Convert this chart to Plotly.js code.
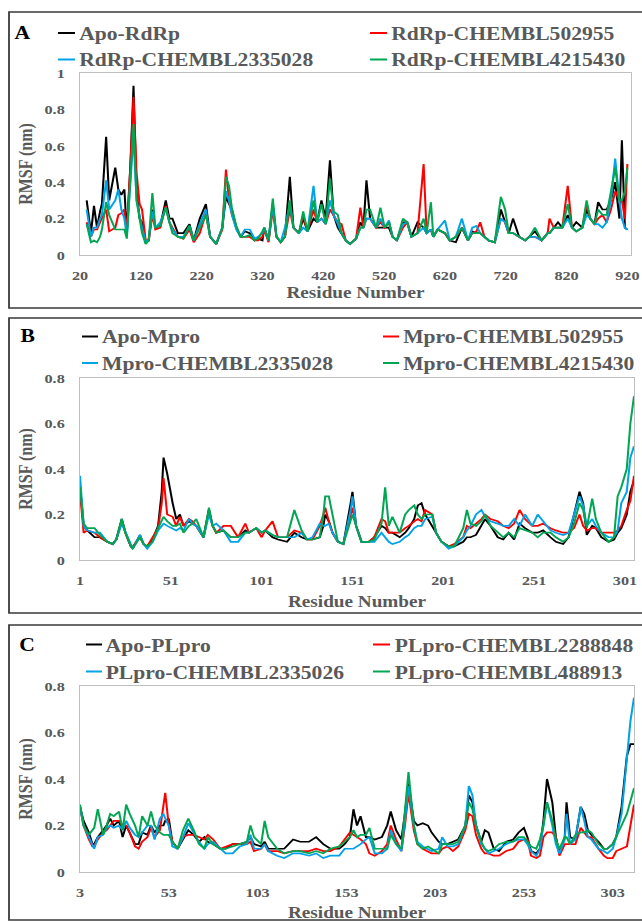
<!DOCTYPE html>
<html>
<head>
<meta charset="utf-8">
<script src="https://cdn.plot.ly/plotly-3.0.1.min.js"></script>
<style>
html,body{margin:0;padding:0;background:#fff;width:642px;height:922px;overflow:hidden;}
#wrap{width:535px;height:922px;transform:scaleX(1.2);transform-origin:0 0;}
#chart{width:535px;height:922px;}
</style>
</head>
<body>
<div id="wrap"><div id="chart"></div></div>
<script>
// ---------------- DATA ----------------
// Panel A : RdRp
const namesA = ['Apo-RdRp','RdRp-CHEMBL502955','RdRp-CHEMBL2335028','RdRp-CHEMBL4215430'];
const ticksA = [20,120,220,320,420,520,620,720,820,920];
const resA = [31,38,43,48,53,56,63,68,78,83, 88,93,97,103,108,113,118,122,128,133,
  139,144,152,161,167,172,181,190,200,207, 217,227,234,244,254,260,265,270,277,284,
  291,299,307,313,320,323,330,337,343,350,357, 365,371,380,387,394,404,410,417,424,431,
  437,444,450,457,464,474,481,486,491,497, 507,514,521,528,534,541,551,558,565,575,
  585,590,597,601,608,620,628,638,648,658, 665,672,678,685,692,702,712,719,725,732,
  742,752,759,768,779,789,792,799,806,813, 822,829,836,846,853,859,866,872,879,886,
  893,900,907,911,916,920];
const apoA = [.30,.12,.27,.15,.24,.28,.65,.30,.48,.36, .33,.36,.12,.50,.93,.35,.20,.18,.07,.08,
  .25,.15,.16,.30,.20,.20,.12,.12,.17,.08, .20,.28,.10,.06,.15,.32,.28,.25,.15,.10,
  .13,.12,.08,.09,.08,.15,.08,.28,.10,.07,.10, .43,.15,.12,.20,.13,.20,.18,.30,.20,.52,
  .22,.15,.12,.08,.06,.09,.18,.15,.41,.20, .15,.15,.15,.15,.10,.08,.18,.18,.10,.18,
  .15,.12,.14,.10,.14,.12,.08,.07,.15,.08, .13,.12,.12,.10,.08,.07,.25,.18,.12,.20,
  .10,.08,.10,.13,.08,.12,.12,.15,.18,.15, .22,.15,.18,.15,.25,.20,.17,.29,.25,.25,
  .30,.40,.20,.63,.15,.14];
const lig1A = [.18,.10,.14,.14,.18,.20,.25,.13,.15,.22, .23,.25,.12,.50,.87,.45,.28,.25,.08,.08,
  .22,.14,.15,.27,.18,.15,.10,.09,.14,.07, .12,.23,.10,.06,.14,.47,.30,.22,.15,.10,
  .10,.10,.08,.08,.10,.14,.07,.25,.10,.07,.10, .25,.15,.12,.22,.13,.25,.18,.20,.17,.25,
  .22,.18,.17,.08,.06,.09,.26,.15,.20,.20, .15,.18,.15,.18,.10,.08,.15,.18,.10,.12,
  .50,.12,.14,.10,.14,.12,.08,.10,.15,.08, .12,.13,.18,.10,.08,.07,.20,.18,.12,.12,
  .10,.08,.10,.10,.08,.12,.20,.15,.15,.15, .38,.15,.13,.15,.28,.20,.17,.20,.22,.18,
  .25,.35,.30,.30,.20,.50];
const lig2A = [.25,.10,.15,.15,.20,.22,.41,.25,.30,.36, .25,.20,.10,.40,.66,.30,.20,.15,.07,.09,
  .24,.15,.18,.26,.18,.14,.10,.10,.16,.08, .17,.25,.10,.06,.15,.35,.30,.22,.14,.10,
  .14,.14,.09,.10,.12,.15,.08,.27,.10,.07,.15, .28,.15,.12,.15,.13,.38,.18,.20,.17,.30,
  .22,.17,.12,.08,.06,.09,.15,.15,.20,.20, .15,.20,.15,.19,.10,.08,.17,.18,.10,.12,
  .15,.12,.14,.10,.14,.19,.08,.10,.20,.08, .15,.16,.12,.10,.08,.07,.20,.18,.12,.12,
  .10,.08,.10,.10,.08,.12,.12,.15,.15,.15, .20,.15,.13,.15,.22,.20,.17,.17,.15,.18,
  .30,.53,.30,.20,.15,.14];
const lig3A = [.17,.07,.08,.07,.10,.14,.29,.22,.14,.14, .14,.14,.09,.40,.72,.30,.18,.12,.06,.08,
  .34,.15,.16,.26,.18,.12,.10,.09,.16,.08, .15,.22,.10,.06,.15,.43,.38,.25,.16,.10,
  .10,.11,.08,.09,.13,.15,.08,.31,.10,.07,.10, .30,.15,.12,.24,.13,.30,.18,.28,.17,.42,
  .24,.22,.12,.08,.06,.09,.15,.15,.25,.25, .15,.26,.15,.18,.10,.08,.20,.18,.10,.12,
  .20,.12,.29,.10,.14,.12,.08,.10,.15,.08, .12,.12,.12,.10,.08,.07,.32,.25,.12,.12,
  .10,.08,.10,.15,.08,.12,.12,.15,.15,.15, .28,.15,.13,.15,.30,.20,.17,.25,.22,.22,
  .35,.48,.30,.30,.35,.48];

// Panel B : Mpro
const namesB = ['Apo-Mpro','Mpro-CHEMBL502955','Mpro-CHEMBL2335028','Mpro-CHEMBL4215430'];
const ticksB = [1,51,101,151,201,251,301];
const resB = [1,3,5,9,12,16,19,21,24,26, 29,30,34,36,38,41,44,46,47,49,
  52,54,56,58,61,63,65,69,72,74, 76,80,84,88,92,94,98,101,103,107,
  110,115,119,123,126,129,133,135,136,138, 140,143,146,150,151,153,156,160,163,167,
  169,171,173,177,180,182,185,187,189,191, 195,197,200,204,207,212,214,216,219,222,
  224,227,231,234,237,240,243,246,250,253, 256,260,263,267,270,273,276,278,280,283,
  285,288,292,295,297,299,302,304,306];
const apoB = [.33,.15,.13,.10,.10,.08,.07,.09,.18,.12, .06,.05,.11,.07,.06,.09,.15,.30,.45,.38,
  .25,.18,.20,.15,.17,.16,.15,.10,.22,.15, .12,.13,.10,.10,.13,.12,.14,.12,.13,.10,
  .09,.08,.12,.10,.09,.09,.10,.15,.20,.17, .12,.08,.07,.25,.30,.15,.08,.08,.10,.15,
  .14,.12,.12,.10,.12,.14,.18,.24,.25,.20, .15,.12,.08,.06,.06,.08,.10,.10,.11,.15,
  .18,.15,.10,.09,.12,.09,.16,.14,.12,.12, .13,.10,.08,.07,.10,.20,.30,.25,.11,.15,
  .14,.10,.08,.09,.12,.14,.20,.30,.35];
const lig1B = [.30,.12,.13,.12,.10,.08,.07,.09,.17,.12, .06,.06,.10,.07,.06,.10,.14,.25,.36,.20,
  .19,.15,.19,.15,.18,.17,.15,.10,.22,.15, .12,.15,.15,.10,.16,.12,.14,.10,.13,.17,
  .10,.10,.13,.12,.09,.09,.15,.20,.23,.17, .12,.08,.07,.20,.23,.15,.08,.08,.10,.18,
  .17,.12,.12,.12,.14,.15,.17,.18,.17,.22, .20,.12,.08,.06,.07,.10,.15,.14,.16,.18,
  .20,.18,.17,.15,.14,.16,.22,.18,.15,.15, .16,.14,.13,.12,.12,.14,.20,.15,.13,.14,
  .14,.12,.12,.12,.13,.15,.22,.26,.37];
const lig2B = [.37,.15,.13,.12,.12,.08,.07,.09,.16,.12, .06,.05,.11,.07,.05,.08,.13,.15,.16,.15,
  .14,.13,.14,.13,.18,.16,.15,.10,.20,.15, .16,.13,.08,.08,.12,.12,.14,.12,.13,.11,
  .10,.10,.10,.12,.09,.10,.16,.15,.15,.16, .12,.08,.07,.22,.28,.15,.08,.08,.08,.12,
  .10,.08,.07,.08,.10,.11,.14,.15,.15,.18, .19,.12,.08,.05,.06,.10,.13,.15,.20,.22,
  .19,.17,.16,.15,.15,.18,.15,.20,.15,.20, .17,.13,.12,.11,.12,.20,.28,.24,.15,.18,
  .15,.12,.10,.10,.13,.25,.30,.45,.50];
const lig3B = [.32,.16,.14,.14,.11,.08,.07,.09,.18,.12, .06,.05,.10,.07,.06,.08,.14,.18,.19,.17,
  .15,.15,.16,.12,.15,.16,.18,.10,.23,.15, .12,.13,.10,.10,.12,.12,.14,.12,.13,.11,
  .10,.10,.22,.13,.09,.09,.10,.20,.28,.28, .20,.08,.07,.18,.20,.15,.08,.08,.09,.16,
  .32,.15,.19,.12,.20,.22,.24,.20,.18,.20, .20,.12,.08,.06,.06,.14,.22,.16,.15,.17,
  .20,.15,.12,.10,.12,.10,.14,.13,.12,.10, .12,.12,.10,.08,.10,.16,.25,.22,.14,.27,
  .18,.12,.08,.10,.28,.32,.40,.60,.72];

// Panel C : PLpro
const namesC = ['Apo-PLpro','PLpro-CHEMBL2288848','PLpro-CHEMBL2335026','PLpro-CHEMBL488913'];
const ticksC = [3,53,103,153,203,253,303];
const resC = [3,5,8,10,11,13,16,18,20,22, 25,27,29,31,34,36,38,41,43,45,
  48,50,51,53,55,58,61,64,67,70, 73,75,78,82,85,89,93,97,99,101,
  105,107,109,114,118,123,127,132,136,140, 144,149,152,155,157,159,161,164,166,169,
  173,176,178,181,184,186,188,191,193,196, 199,201,205,207,210,213,216,220,222,224,
  226,229,231,233,236,239,243,247,250,253, 255,257,260,262,264,266,269,271,273,276,
  277,279,282,285,287,289,291,295,298,300, 303,305,308,311,313,315];
const apoC = [.28,.22,.17,.12,.12,.15,.18,.20,.23,.20, .22,.15,.20,.17,.12,.12,.17,.16,.20,.17,
  .20,.20,.22,.23,.13,.10,.14,.18,.16,.13, .15,.13,.12,.10,.10,.12,.12,.13,.15,.12,
  .11,.13,.10,.10,.10,.14,.13,.13,.15,.12, .10,.10,.12,.15,.27,.20,.24,.15,.15,.14,
  .15,.20,.26,.18,.14,.25,.38,.22,.20,.21, .20,.17,.13,.12,.12,.13,.14,.20,.33,.30,
  .20,.13,.18,.17,.10,.09,.13,.14,.17,.19, .15,.09,.08,.10,.22,.40,.30,.15,.08,.15,
  .30,.15,.14,.28,.25,.18,.16,.13,.10,.10, .12,.15,.28,.50,.55,.55];
const lig1C = [.28,.20,.14,.11,.11,.14,.17,.18,.20,.22, .22,.20,.20,.17,.11,.10,.13,.15,.19,.15,
  .18,.30,.34,.20,.13,.10,.15,.16,.16,.15, .14,.16,.14,.10,.11,.12,.12,.12,.13,.09,
  .10,.12,.09,.09,.08,.09,.09,.09,.10,.09, .09,.11,.14,.17,.16,.15,.14,.12,.08,.07,
  .09,.12,.20,.14,.09,.20,.34,.18,.12,.10, .09,.08,.08,.10,.11,.09,.11,.18,.25,.24,
  .16,.10,.08,.08,.07,.07,.09,.10,.13,.14, .14,.07,.06,.07,.15,.17,.17,.15,.07,.12,
  .12,.12,.12,.19,.17,.15,.15,.10,.07,.06, .06,.09,.10,.11,.20,.29];
const lig2C = [.28,.20,.15,.11,.10,.15,.16,.19,.20,.19, .20,.18,.22,.19,.16,.15,.17,.20,.20,.14,
  .23,.25,.23,.20,.11,.10,.15,.21,.17,.13, .10,.12,.13,.10,.08,.08,.11,.12,.16,.10,
  .10,.12,.09,.07,.06,.08,.08,.07,.08,.06, .07,.07,.10,.10,.10,.11,.12,.14,.15,.08,
  .08,.10,.18,.12,.09,.22,.37,.20,.13,.11, .10,.09,.10,.15,.11,.11,.12,.20,.37,.33,
  .20,.12,.10,.08,.09,.10,.12,.13,.14,.14, .12,.09,.07,.10,.19,.30,.20,.12,.08,.14,
  .25,.12,.14,.28,.22,.15,.14,.10,.09,.08, .10,.15,.25,.50,.65,.75];
const lig3C = [.29,.20,.16,.18,.19,.27,.16,.20,.25,.24, .26,.18,.29,.25,.20,.15,.24,.20,.26,.20,
  .17,.16,.16,.16,.13,.10,.18,.23,.18,.12, .10,.15,.12,.10,.10,.11,.12,.13,.20,.15,
  .12,.22,.15,.10,.08,.09,.09,.08,.09,.08, .10,.11,.13,.15,.18,.15,.16,.16,.19,.10,
  .10,.10,.16,.12,.10,.25,.43,.20,.12,.10, .11,.10,.08,.12,.12,.12,.13,.20,.30,.27,
  .20,.13,.10,.09,.10,.12,.13,.13,.15,.15, .13,.11,.10,.14,.20,.30,.22,.14,.10,.15,
  .15,.12,.16,.17,.17,.18,.17,.12,.10,.10, .12,.15,.20,.25,.30,.36];

const colors = ['#000000','#ff0000','#00a2e8','#00a651'];

// ---------------- LAYOUT ----------------
const REFW = 642, REFH = 922;           // reference pixel frame
const fx = x => x / REFW;               // paper x from reference px
const fy = y => 1 - y / REFH;           // paper y from reference px
const FONT = '"Liberation Serif","Times New Roman",Times,serif';
const GRAY = '#595959';

const panels = [
  {res:resA, series:[apoA,lig1A,lig2A,lig3A], names:namesA, ticks:ticksA, xr:[20,926], yr:[0,1],
   plot:[80,631,73,255], box:[9,660,12,308], letter:'A', letterPos:[22.5,33], tstand:4,
   leg:{rows:[33,59.5], c1:[58,75,77], c2:[370,387,389]}},
  {res:resB, series:[apoB,lig1B,lig2B,lig3B], names:namesB, ticks:ticksB, xr:[1,306], yr:[0,0.8],
   plot:[80,634,378,560], box:[9,660,318,613], letter:'B', letterPos:[27.5,336.5], tstand:8,
   leg:{rows:[336.5,363], c1:[82,98,100], c2:[383,399,401]}},
  {res:resC, series:[apoC,lig1C,lig2C,lig3C], names:namesC, ticks:ticksC, xr:[3,315], yr:[0,0.8],
   plot:[80,634,686,872], box:[9,660,625,920], letter:'C', letterPos:[27,644.5], tstand:7,
   leg:{rows:[644.5,671.5], c1:[86,102,103], c2:[373,390,392]}}
];

const traces = [];
const layout = {
  width:535, height:922, margin:{l:0,r:0,t:0,b:0}, showlegend:false,
  paper_bgcolor:'#ffffff', plot_bgcolor:'#ffffff',
  font:{family:FONT, color:GRAY},
  shapes:[], annotations:[]
};

panels.forEach((p,k) => {
  const n = k===0 ? '' : String(k+1);
  const xa = 'x'+n, ya = 'y'+n;
  p.series.forEach((s,i) => {
    traces.push({type:'scatter', mode:'lines', x:p.res, y:s, name:p.names[i],
      xaxis:xa, yaxis:ya, line:{color:colors[i], width:1.7}, hoverinfo:'skip'});
  });
  layout['xaxis'+n] = {
    domain:[fx(p.plot[0]), fx(p.plot[1])], anchor:ya, range:p.xr,
    tickmode:'array', tickvals:p.ticks, ticktext:p.ticks.map(String),
    showgrid:false, zeroline:false, showline:true, mirror:true, linecolor:'#bfbfbf', linewidth:1,
    ticks:'', ticklabelstandoff:8, ticklabeloverflow:'allow',
    tickfont:{family:FONT, size:13.5, color:GRAY, weight:700},
    title:{text:'Residue Number', standoff:p.tstand, font:{family:FONT, size:16, color:GRAY, weight:700}}
  };
  layout['yaxis'+n] = {
    domain:[fy(p.plot[3]), fy(p.plot[2])], anchor:xa, range:p.yr,
    tickmode:'linear', tick0:0, dtick:0.2,
    showgrid:false, zeroline:false, showline:true, mirror:true, linecolor:'#bfbfbf', linewidth:1,
    ticks:'', ticklabelstandoff:9, ticklabeloverflow:'allow',
    tickfont:{family:FONT, size:13.5, color:GRAY, weight:700},
    title:{text:'RMSF (nm)', standoff:5, font:{family:FONT, size:16, color:GRAY, weight:700}}
  };
  // panel frame
  layout.shapes.push({type:'rect', xref:'paper', yref:'paper',
    x0:fx(p.box[0]), x1:fx(p.box[1]), y0:fy(p.box[3]), y1:fy(p.box[2]),
    line:{color:'#3a3a3a', width:1.5}, fillcolor:'rgba(0,0,0,0)', layer:'below'});
  // panel letter
  layout.annotations.push({xref:'paper', yref:'paper', x:fx(p.letterPos[0]), y:fy(p.letterPos[1]),
    text:p.letter, showarrow:false, xanchor:'center', yanchor:'middle',
    font:{family:FONT, size:18, color:'#000000', weight:700}});
  // legend (2 x 2)
  p.names.forEach((nm,i) => {
    const col = i % 2 === 0 ? p.leg.c1 : p.leg.c2;
    const yy = p.leg.rows[Math.floor(i/2)];
    layout.shapes.push({type:'line', xref:'paper', yref:'paper',
      x0:fx(col[0]), x1:fx(col[1]), y0:fy(yy), y1:fy(yy), line:{color:colors[i], width:2}});
    layout.annotations.push({xref:'paper', yref:'paper', x:fx(col[2]), y:fy(yy+1),
      text:nm, showarrow:false, xanchor:'left', yanchor:'middle',
      font:{family:FONT, size:18, color:GRAY, weight:700}});
  });
});

Plotly.newPlot('chart', traces, layout, {staticPlot:true, displayModeBar:false});
</script>
</body>
</html>
